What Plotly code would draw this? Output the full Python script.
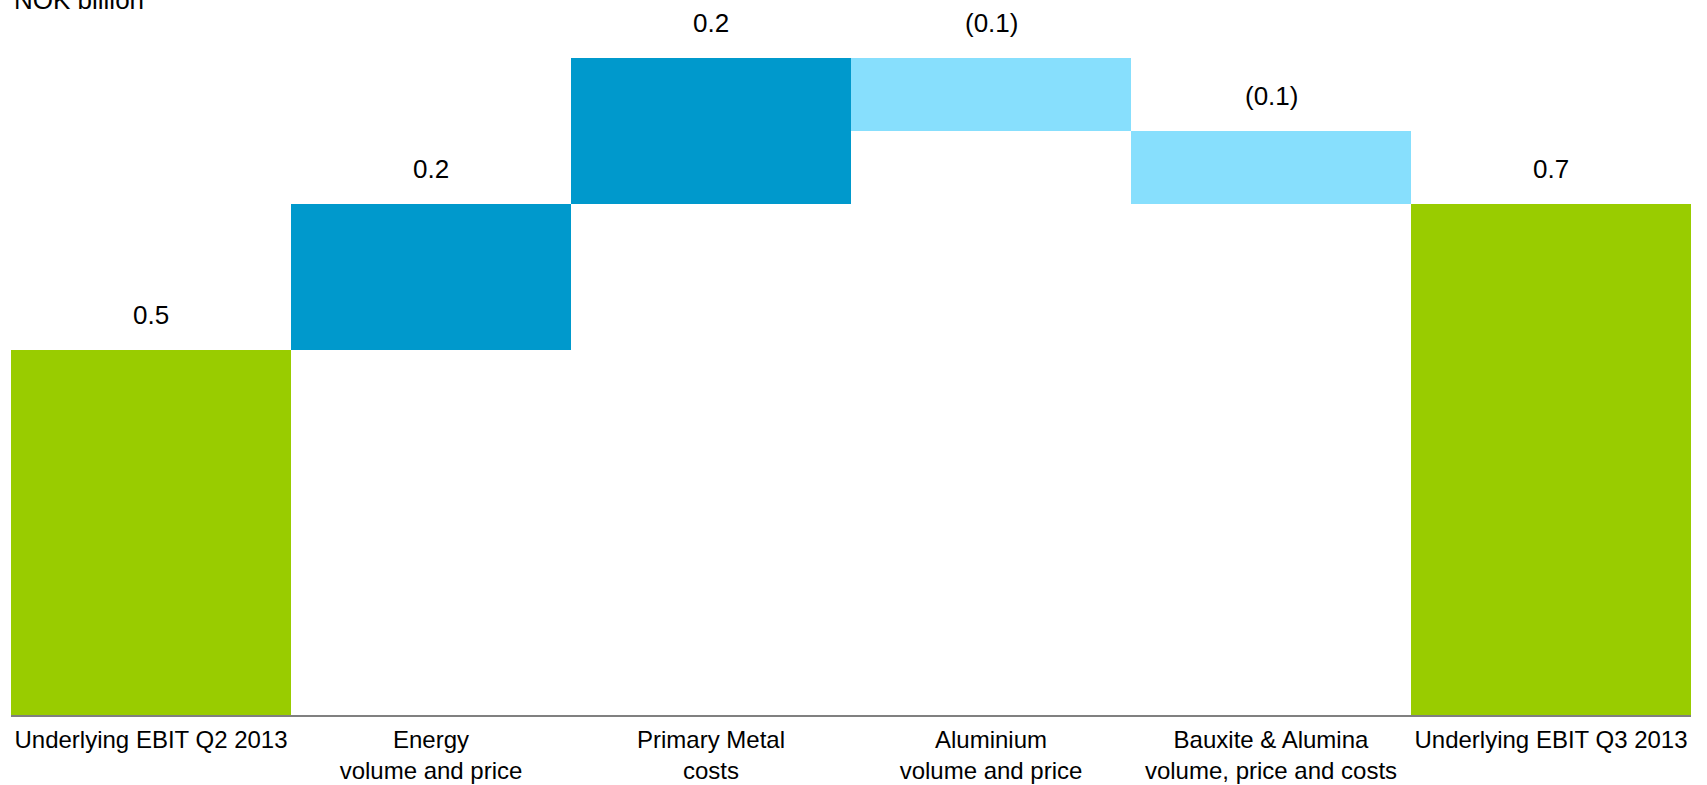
import plotly.graph_objects as go

categories = [
    "Underlying EBIT Q2 2013",
    "Energy<br>volume and price",
    "Primary Metal<br>costs",
    "Aluminium<br>volume and price",
    "Bauxite & Alumina<br>volume, price and costs",
    "Underlying EBIT Q3 2013",
]
values = [0.5, 0.2, 0.2, -0.1, -0.1, 0.7]
measures = ["absolute", "relative", "relative", "relative", "relative", "total"]
unit_label = "NOK billion"

GREEN = "#99CC00"
DARK_BLUE = "#0099CC"
LIGHT_BLUE = "#87DFFD"
FONT = "Liberation Sans, Arial, sans-serif"

fig = go.Figure()
fig.add_trace(go.Waterfall(
    x=categories,
    y=values,
    measure=measures,
    increasing=dict(marker=dict(color=DARK_BLUE)),
    decreasing=dict(marker=dict(color=LIGHT_BLUE)),
    totals=dict(marker=dict(color=GREEN)),
    connector=dict(visible=False),
    hoverinfo="skip",
    textposition="none",
))

# value labels above each bar
cum = 0.0
for cat, v, m in zip(categories, values, measures):
    if m == "absolute":
        lo, hi = 0.0, v
        cum = v
    elif m == "total":
        lo, hi = 0.0, cum
    else:
        start = cum
        cum = cum + v
        lo, hi = min(start, cum), max(start, cum)
    txt = f"({abs(v):.1f})" if v < 0 else f"{v:.1f}"
    fig.add_annotation(
        x=cat, y=hi, xref="x", yref="y",
        text=txt, showarrow=False,
        yanchor="bottom", yshift=18,
        font=dict(family=FONT, size=26, color="#000000"),
    )

fig.add_annotation(
    x=0, y=1, xref="paper", yref="paper",
    xanchor="left", yanchor="bottom", xshift=1, yshift=-17,
    text=unit_label, showarrow=False,
    font=dict(family=FONT, size=26, color="#000000"),
)

fig.update_layout(
    width=1707, height=785,
    margin=dict(l=11, r=16, t=0, b=70, autoexpand=False),
    paper_bgcolor="white", plot_bgcolor="white",
    showlegend=False,
    waterfallgap=0,
    font=dict(family=FONT, size=24, color="#000000"),
)
fig.update_xaxes(
    showline=True, linecolor="#808080", linewidth=2,
    showgrid=False, ticks="", ticklabelstandoff=2, automargin=False,
    tickfont=dict(size=24, family=FONT, color="#000000"),
)
fig.update_yaxes(
    range=[0, 0.98], visible=False, showgrid=False, zeroline=False,
    automargin=False,
)

fig.write_html("out.html")
